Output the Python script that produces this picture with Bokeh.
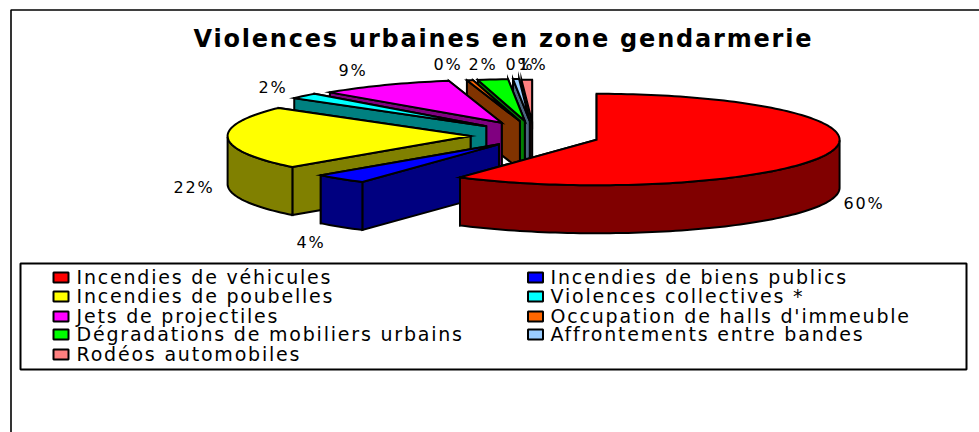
import math
from bokeh.plotting import figure
from bokeh.models import Range1d
from bokeh.core.properties import value
from bokeh.embed import file_html
from bokeh.resources import INLINE

TITLE = "Violences urbaines en zone gendarmerie"
categories = ["Incendies de véhicules", "Incendies de biens publics", "Incendies de poubelles",
              "Violences collectives *", "Jets de projectiles", "Occupation de halls d'immeuble",
              "Dégradations de mobiliers urbains", "Affrontements entre bandes", "Rodéos automobiles"]
values = [59.5, 3.6, 22.4, 2, 9, 0.4, 2, 0.4, 0.7]
labels = ["60%", "4%", "22%", "2%", "9%", "0%", "2%", "0%", "1%"]
colors = ["#FF0000", "#0000FF", "#FFFF00", "#00FFFF", "#FF00FF", "#FF6600", "#00FF00", "#99CCFF", "#FF8080"]
wall_colors = ["#800000", "#000080", "#808000", "#008080", "#800080", "#803300", "#008000", "#4C6680", "#804040"]
explode = [66, 53, 63, 63, 66, 66, 66, 66, 63]
back_ry = [46, 46, 46, 46, 43, 42, 42, 42, 42]
paint_order = [8, 7, 6, 5, 4, 3, 2, 1, 0]

# pie geometry (page pixels)
CX, CY, RX, RY, DEPTH, K = 533, 135, 243, 45.5, 48, 0.22
label_x = [843, 296, 173, 258, 338, 433, 468, 505, 518]
label_y = [203, 242, 187, 87, 70, 64, 64, 64, 64]

p = figure(width=979, height=432, x_range=Range1d(0, 979), y_range=Range1d(432, 0),
           output_backend="svg", toolbar_location=None, min_border=0,
           styles={"letter-spacing": "1.8px"})
p.axis.visible = False
p.grid.visible = False
p.outline_line_color = None
p.background_fill_color = "white"

# outer frame
p.line([10.5, 10.5, 979], [432, 9.5, 9.5], line_color="black", line_width=1.6)

total = sum(values)
starts, a = [], 0.0
for v in values:
    starts.append(a)
    a += v / total * 2 * math.pi


def rim(ax, ay, t, i):
    c = math.cos(t)
    return ax + RX * math.sin(t), ay - (back_ry[i] if c > 0 else RY) * c


xs, ys, fills = [], [], []
for i in paint_order:
    t0 = starts[i]
    t1 = t0 + values[i] / total * 2 * math.pi
    mid = (t0 + t1) / 2
    ax = CX + explode[i] * math.sin(mid)
    ay = CY - explode[i] * math.cos(mid) * K
    n = max(3, int((t1 - t0) * 40))
    ts = [t0 + (t1 - t0) * j / n for j in range(n + 1)]
    arc = [rim(ax, ay, t, i) for t in ts]
    # radial walls
    for e in (arc[-1], arc[0]):
        xs.append([ax, e[0], e[0], ax])
        ys.append([ay, e[1], e[1] + DEPTH, ay + DEPTH])
        fills.append(wall_colors[i])
    # front rim
    front = [q for q, t in zip(arc, ts) if math.cos(t) <= 0]
    if len(front) > 1:
        xs.append([q[0] for q in front] + [q[0] for q in reversed(front)])
        ys.append([q[1] for q in front] + [q[1] + DEPTH for q in reversed(front)])
        fills.append(wall_colors[i])
    # top
    xs.append([ax] + [q[0] for q in arc])
    ys.append([ay] + [q[1] for q in arc])
    fills.append(colors[i])

p.patches(xs, ys, fill_color=fills, line_color="black", line_width=2, line_join="miter")

# title and percentage labels
font = value("DejaVu Sans")
p.text([193], [38], text=[TITLE], text_font=font, text_font_style="bold", text_font_size="24px",
       text_align="left", text_baseline="middle", text_color="black")
p.text(label_x, label_y, text=labels, text_font=font, text_font_size="16px",
       text_align="left", text_baseline="middle", text_color="black")

# legend box
p.rect([493], [316], width=[946], height=[106], fill_color="white", line_color="black", line_width=2)
rows = [277, 296, 316, 334, 354]
col_sw = [60.5, 535]
col_tx = [76, 550]
sx = [col_sw[i % 2] for i in range(len(categories))]
sy = [rows[i // 2] for i in range(len(categories))]
tx = [col_tx[i % 2] for i in range(len(categories))]
ty = [y - 1 for y in sy]
p.rect(sx, sy, width=15, height=10, fill_color=colors, line_color="black", line_width=2)
p.text(tx, ty, text=categories, text_font=font, text_font_size="19px",
       text_align="left", text_baseline="middle", text_color="black")

open("out.html", "w").write(file_html(p, INLINE))
